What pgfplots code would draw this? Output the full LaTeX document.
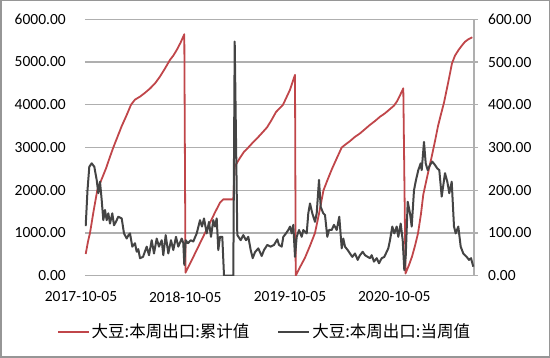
\documentclass[border=0pt]{standalone}
\usepackage{pgfplots}
\pgfplotsset{compat=1.18}
\usepackage{fontspec}
\setmainfont{Carlito}
\newfontfamily\cjk{Noto Sans CJK SC}
\definecolor{cumred}{RGB}{192,70,74}
\definecolor{wkgray}{RGB}{68,68,68}
\definecolor{gridc}{RGB}{175,175,175}
\definecolor{framec}{RGB}{150,150,150}
\begin{document}
\begin{tikzpicture}
\useasboundingbox (0,0) rectangle (550pt,358pt);
\draw[line width=1.5pt, framec] (0.75pt,0.75pt) rectangle (549.25pt,357.25pt);
\pgfplotsset{
  base/.style={
    scale only axis, width=389pt, height=256.4pt,
    at={(85pt,82.3pt)}, anchor=south west,
    xmin=85, xmax=474,
    font=\fontsize{15.5}{18}\selectfont,
    /pgf/number format/assume math mode=true,
    yticklabel style={/pgf/number format/fixed, /pgf/number format/fixed zerofill,
      /pgf/number format/precision=2, /pgf/number format/1000 sep={}},
  }
}
\begin{axis}[base,
  ymin=0, ymax=6000, ytick={0,1000,...,6000},
  ymajorgrids, major grid style={gridc, line width=1.2pt},
  axis line style={draw=none}, tick style={draw=none},
  xtick={85.5,189.7,294.5,398.8},
  xticklabels={2017-10-05,2018-10-05,2019-10-05,2020-10-05},
  xticklabel style={anchor=north, inner sep=0pt, xshift=-4.5pt},
  xticklabel shift=16pt,
  yticklabel style={anchor=east, inner sep=0pt},
  yticklabel shift=19pt,
]
\addplot[cumred, line width=1.8pt, line join=round] coordinates {
(85.7,507) (88,800) (90,1000) (93.5,1500) (97.3,2000) (101.5,2250) (106,2510) (109.5,2750)
(113.3,3000) (117.5,3250) (121.7,3500) (126.5,3750) (131,4000) (135,4120) (140,4190) (145,4280)
(150,4380) (155,4500) (160,4660) (165,4850) (170,5050) (173.3,5150) (176.7,5280) (180.5,5450)
(184.3,5650) (185.5,70) (190,280) (195,520) (200,760) (205,1000) (210,1240) (215,1480) (220,1710)
(223.3,1786) (233.3,1786) (234.7,2550) (240,2760) (244,2900) (248.3,3000) (253,3120) (257.3,3220)
(262,3340) (267,3470) (271.5,3640) (276,3830) (283,4000) (290,4350) (295,4700)
(295.7,0) (300,200) (305,420) (310,700) (315,1000) (319,1450) (323.5,2000) (328,2270) (332,2500)
(337,2760) (341.7,3000) (346,3080) (350,3150) (355,3250) (360,3330) (365,3430) (370,3530) (375,3620)
(380,3720) (385,3800) (390,3900) (394,3980) (397,4080) (400,4220) (403.3,4385)
(405.5,50) (409,250) (412,445) (415,700) (418,990) (421,1450) (423.3,1900) (427.5,2350) (431.7,2785)
(435,3150) (438,3500) (441,3780) (444,4050) (448,4500) (452,4970) (455,5150) (458.5,5280)
(462,5390) (465,5475) (468.5,5535) (472.3,5580)
};
\end{axis}
\begin{axis}[base,
  ymin=0, ymax=600, ytick={0,100,...,600},
  axis x line=none, axis y line*=right,
  y axis line style={gridc, line width=1.2pt},
  ytick style={gridc, line width=1.2pt},
  tick align=outside, major tick length=4pt,
  yticklabel style={anchor=west, inner sep=0pt},
  yticklabel shift=10pt,
  legend columns=2,
  legend style={at={(0.4614,-0.2184)}, anchor=center, draw=none, fill=none,
    font=\fontsize{16.5}{19}\selectfont,
    /tikz/every even column/.append style={column sep=26pt},
    nodes={inner sep=2pt}},
  legend image code/.code={\draw[#1] (0pt,0pt) -- (31pt,0pt);},
]
\addlegendimage{cumred, line width=1.8pt}
\addlegendentry{\cjk 大豆:本周出口:累计值}
\addplot[wkgray, line width=2pt, line join=round] coordinates {
(85.7,116) (87.5,200) (89.3,255) (91.7,263) (94.3,255) (96.7,224) (98.3,193) (100,220)
(101.7,177) (103.3,130) (105,154) (106.7,130) (108.3,146) (110,122) (112.3,146) (114,118)
(115.7,125) (118.3,138) (121.7,134) (124,99) (126.7,87) (128.5,95) (130,99) (132.3,68)
(135,76) (136.7,56) (138.3,62) (140,41) (143,44) (146.7,68) (149,48) (151.7,83) (154,52)
(156.7,87) (159,68) (161.7,83) (163.3,48) (165.7,95) (168.3,52) (171,83) (173.3,60) (176,91)
(178.3,68) (181.7,87) (183.3,76) (184.3,25) (185.7,83) (188,76) (190.7,83) (193.3,80)
(196.7,99) (200,130) (202,115) (204,134) (206.7,99) (209,126) (211,91) (213.3,130) (215,115)
(216.7,134) (218.3,60) (220,91) (222.3,91) (224,0) (233.3,0) (234.7,548) (237.3,95)
(240.7,83) (243.3,95) (246,83) (248.3,91) (250.7,60) (252.7,41) (255,55) (258.3,64)
(261.7,46) (264,60) (267.3,72) (270.7,68) (274,72) (277.3,85) (279,72) (281.7,68) (283.3,91)
(286,99) (288.3,107) (290,115) (291.7,99) (293.3,119) (295,44) (296.7,91) (299,107)
(301.7,91) (303.3,107) (306.7,99) (308.3,146) (310,169) (312.3,146) (315,126) (316.7,146)
(319,224) (320.7,161) (323.3,146) (325,142) (327.3,91) (329,107) (331.7,107) (334,119)
(336.7,107) (339.3,138) (341.7,64) (343.3,87) (345,68) (347.7,60) (350,52) (352.3,44)
(355,52) (357.7,37) (360,48) (362.7,56) (365,48) (367.7,44) (370,41) (371.7,48) (374,33)
(376.7,41) (379,29) (381.7,41) (384.3,44) (386.7,56) (388.3,64) (390,83) (392.3,115)
(394.3,99) (396.7,115) (398.3,91) (400.7,122) (402.7,83) (404.3,13) (405.7,44) (407.7,173)
(410,146) (411.7,115) (414,200) (416,224) (418.3,247) (420.7,263) (421.7,247) (424,313)
(425.7,263) (427.7,247) (430,259) (432.3,267) (435,259) (437.3,251) (439.3,247) (441.7,185)
(445,240) (447.3,220) (449.3,193) (451.7,220) (454,115) (455.7,99) (458.3,115) (460.7,68)
(463.3,52) (466.7,44) (469,37) (471,41) (473.3,21)
};
\addlegendentry{\cjk 大豆:本周出口:当周值}
\end{axis}
\end{tikzpicture}
\end{document}
